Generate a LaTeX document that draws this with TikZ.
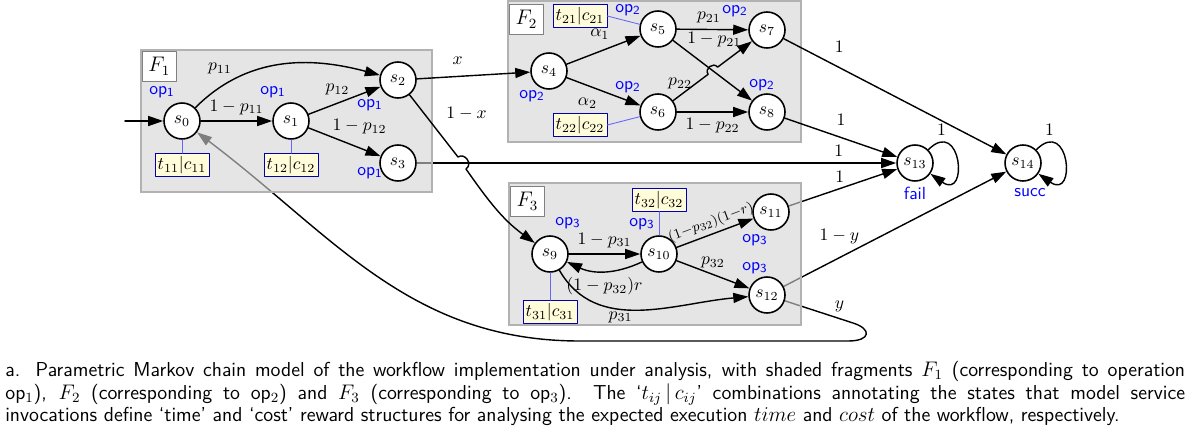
\documentclass[tikz,border=0pt]{standalone}
\usetikzlibrary{arrows.meta,calc}

\pgfdeclarelayer{underedges}
\pgfdeclarelayer{fragfill}
\pgfsetlayers{underedges,fragfill,main}
\newcommand{\FragBox}[5]{%
  \begin{pgfonlayer}{fragfill}
    \path[fragment] #2 rectangle #3;
  \end{pgfonlayer}
  \node[fraglab,anchor=north west] (#1) at #4 {#5};
}

\begin{document}
\begin{tikzpicture}[
    x=0.02cm,y=0.02cm,
    line cap=round,
    line join=round,
    state/.style={circle,draw,line width=0.9pt,fill=white,minimum size=0.72cm,inner sep=0pt},
    trans/.style={draw=black,thick,-{Triangle[length=3mm,width=2mm]}},
    reward/.style={draw=blue!70!black,fill=yellow!15,inner sep=1.5pt},
    rewline/.style={draw=blue!60,line width=0.5pt},
    oplab/.style={text=blue,font=\sffamily,inner sep=1pt},
    fragment/.style={fill=black!17,fill opacity=0.6,draw=gray!60,line width=0.6pt},
    fraglab/.style={draw=gray,fill=white,font=\large,inner sep=2pt,minimum width=0.68cm,minimum height=0.6cm},
    caption/.style={font=\sffamily\fontsize{11.5}{12.9}\selectfont,text width=23.6cm,align=justify,inner sep=0pt,anchor=north west}
]
\useasboundingbox (0,0) rectangle (1192,-443);

% fragments
\FragBox{F1}{(141,-50)}{(432,-192)}{(142,-51)}{$F_1$}
\FragBox{F2}{(508,-1)}{(801,-142)}{(509,-4)}{$F_2$}
\FragBox{F3}{(509,-183)}{(801,-325)}{(510,-186)}{$F_3$}

% states
\foreach \n/\px/\py in {0/182/121,1/291/121,2/398/80,3/398/163,
    4/549/71,5/658/29,6/658/112,7/767/30,8/767/112,
    9/550/254,10/659/254,11/771/212,12/767/295,13/915/163,14/1023/163}
    \node[state] (s\n) at (\px,-\py) {$s_{\n}$};

% operation labels
\foreach \n/\k/\px/\py in {0/1/162/92,1/1/273/92,2/1/370/105,3/1/370/173,
    4/2/532/96,5/2/628/10,6/2/628/87,7/2/735/11,8/2/762/85,
    9/3/568/223,10/3/642/224,11/3/755/240,12/3/755/268}
    \node[oplab] (op\n) at (\px,-\py) {op\textsubscript{\k}};
\node[oplab] (fail) at (915,-193) {fail};
\node[oplab] (succ) at (1030,-193) {succ};

% rewards
\node[reward] (r11) at (182,-165) {$t_{11}|c_{11}$};
\node[reward] (r12) at (291,-165) {$t_{12}|c_{12}$};
\node[reward] (r21) at (580,-16) {$t_{21}|c_{21}$};
\node[reward] (r22) at (580,-125) {$t_{22}|c_{22}$};
\node[reward] (r32) at (659,-200) {$t_{32}|c_{32}$};
\node[reward] (r31) at (550,-312) {$t_{31}|c_{31}$};
\draw[rewline] (s0) -- (r11);
\draw[rewline] (s1) -- (r12);
\draw[rewline] (r21.east) -- (s5);
\draw[rewline] (r22.east) -- (s6);
\draw[rewline] (s10) -- (r32);
\draw[rewline] (s9) -- (r31);

% hops and turning points
\coordinate (init) at (125,-121);
\coordinate (hA) at (458,-157);
\coordinate (hB) at (466,-169);
\coordinate (hC) at ($(s6)!0.46!(s7)$);
\coordinate (hD) at ($(s6)!0.547!(s7)$);
\coordinate (ya) at (853,-323);
\coordinate (yb) at (848,-341);
\coordinate (ybot) at (580,-341);

% F1
\draw[trans] (init) -- (s0);
\draw[trans] (s0) to[out=45,in=165] node[pos=0.25,above left,inner sep=2pt] {$p_{11}$} (s2);
\draw[trans] (s0) -- node[above] {$1-p_{11}$} (s1);
\draw[trans] (s1) -- node[pos=0.6,above left,inner sep=1pt] {$p_{12}$} (s2);
\draw[trans] (s1) -- node[pos=0.3,above right,inner sep=1pt] {$1-p_{12}$} (s3);
\draw[trans] (s2) -- node[pos=0.36,above=3pt] {$x$} (s4);
\draw[trans] (s2) -- node[pos=0.3,right=9pt] {$1-x$} (hA)
    to[bend left=90,looseness=1.5] (hB) to[out=-55,in=144] (s9);

% F2
\draw[trans] (s4) -- node[pos=0.45,above=3pt] {$\alpha_1$} (s5);
\draw[trans] (s4) -- node[midway,below left] {$\alpha_2$} (s6);
\draw[trans] (s5) -- node[pos=0.45,above] {$p_{21}$} (s7);
\draw[trans] (s5) -- node[pos=0.15,anchor=south west,inner sep=1pt] {$1-p_{21}$} (s8);
\draw[trans] (s6) -- node[pos=0.2,above] {$p_{22}$} (hC)
    to[bend left=90,looseness=1.5] (hD) -- (s7);
\draw[trans] (s6) -- node[midway,below] {$1-p_{22}$} (s8);
\draw[trans] (s7) -- node[pos=0.25,above=5pt] {$1$} (s14);
\draw[trans] (s8) -- node[midway,above=3pt] {$1$} (s13);

% F3
\draw[trans] (s9) -- node[midway,above] {$1-p_{31}$} (s10);
\draw[trans] (s10) to[bend left=25] node[midway,below] {$(1-p_{32})r$} (s9);
\draw[trans] (s10) -- node[pos=0.5,above=1pt,sloped,font=\footnotesize,inner sep=1pt] {$(1{-}p_{32})(1{-}r)$} (s11);
\draw[trans] (s10) -- node[midway,above] {$p_{32}$} (s12);
\draw[trans] (s9) to[out=-60,in=185] node[pos=0.4,below,inner sep=1pt] {$p_{31}$} (s12);

% absorbing states
\draw[trans] (s13) to[out=45,in=-35,looseness=5] node[pos=0.15,above] {$1$} (s13);
\draw[trans] (s14) to[out=45,in=-35,looseness=5] node[pos=0.15,above] {$1$} (s14);

% edges below the shading
\begin{pgfonlayer}{underedges}
  \draw[trans] (s3) -- node[pos=0.88,above] {$1$} (s13);
  \draw[trans] (s11) -- node[pos=0.47,above] {$1$} (s13);
  \draw[trans] (s12) -- node[pos=0.35,above left,inner sep=1pt] {$1-y$} (s14);
  \draw[trans] (s12) -- node[pos=0.8,above] {$y$} (ya)
      .. controls (872,-329) and (871,-341) .. (yb)
      -- (ybot) to[out=180,in=-37] (s0);
\end{pgfonlayer}

\node[caption] (cap) at (5,-361) {a. Parametric Markov chain model of the workflow implementation under analysis, with shaded fragments $F_1$ (corresponding to operation\linebreak
op$_1$), $F_2$ (corresponding to op$_2$) and $F_3$ (corresponding to op$_3$).  The `$t_{ij}\,|\,c_{ij}$' combinations annotating the states that model service\linebreak
invocations define `time' and `cost' reward structures for analysing the expected execution $time$ and $cost$ of the workflow, respectively.};
\end{tikzpicture}
\end{document}
